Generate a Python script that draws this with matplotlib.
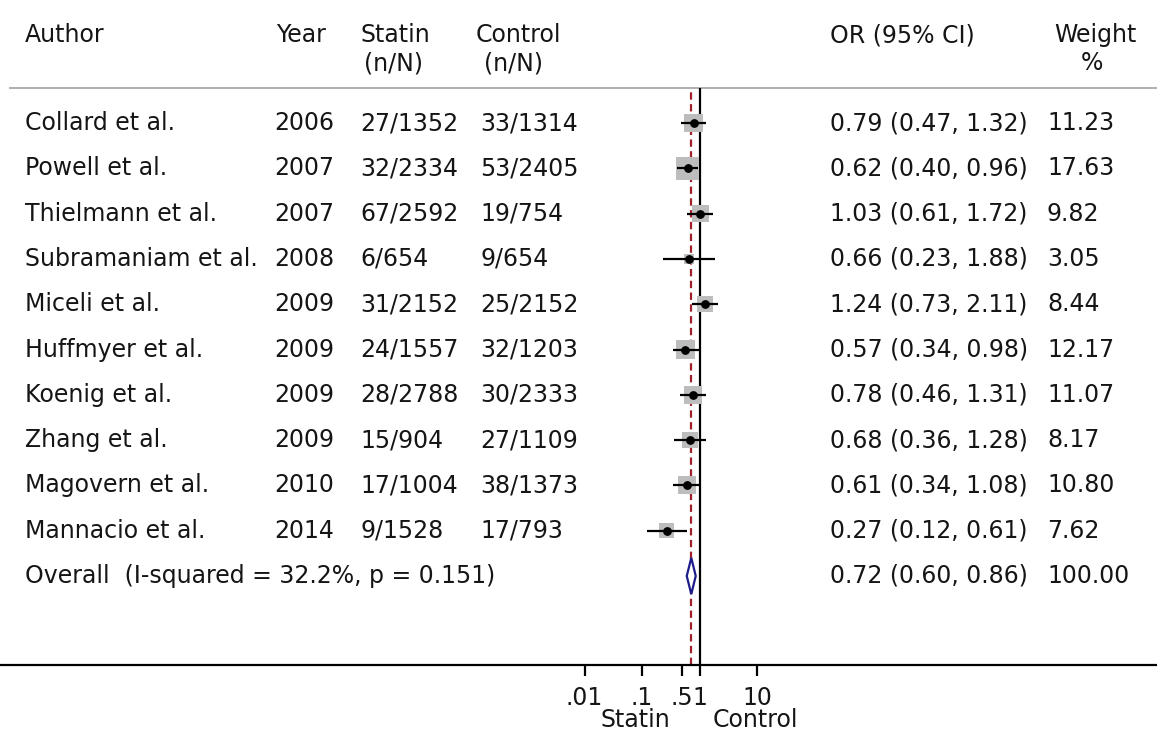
import numpy as np
import matplotlib
matplotlib.use('Agg')
import matplotlib.pyplot as plt
import matplotlib.transforms as mtrans

# study data
authors = ['Collard et al.', 'Powell et al.', 'Thielmann et al.', 'Subramaniam et al.',
           'Miceli et al.', 'Huffmyer et al.', 'Koenig et al.', 'Zhang et al.',
           'Magovern et al.', 'Mannacio et al.']
years = [2006, 2007, 2007, 2008, 2009, 2009, 2009, 2009, 2010, 2014]
statin = ['27/1352', '32/2334', '67/2592', '6/654', '31/2152', '24/1557',
          '28/2788', '15/904', '17/1004', '9/1528']
control = ['33/1314', '53/2405', '19/754', '9/654', '25/2152', '32/1203',
           '30/2333', '27/1109', '38/1373', '17/793']
or_est = [0.79, 0.62, 1.03, 0.66, 1.24, 0.57, 0.78, 0.68, 0.61, 0.27]
ci_lo = [0.47, 0.40, 0.61, 0.23, 0.73, 0.34, 0.46, 0.36, 0.34, 0.12]
ci_hi = [1.32, 0.96, 1.72, 1.88, 2.11, 0.98, 1.31, 1.28, 1.08, 0.61]
weights = [11.23, 17.63, 9.82, 3.05, 8.44, 12.17, 11.07, 8.17, 10.80, 7.62]

overall_label = 'Overall  (I-squared = 32.2%, p = 0.151)'
overall_or, overall_lo, overall_hi, overall_w = 0.72, 0.60, 0.86, 100.00

xticks = [0.01, 0.1, 0.5, 1, 10]
xticklabels = ['.01', '.1', '.5', '1', '10']

plt.rcParams['font.family'] = ['DejaVu Sans']
FS = 17
TXT = '#151515'

W, H = 1157, 731
fig = plt.figure(figsize=(W / 100, H / 100), dpi=100)
# axes spans the full width; top at the header rule, bottom at the x axis line
ax = fig.add_axes([0, (H - 665) / H, 1, (665 - 88) / H])

ax.set_xscale('log')
ax.set_xlim(10 ** (-699.5 / 57.5), 10 ** ((W - 699.5) / 57.5))
ax.set_ylim(11.965, -0.773)

for s in ['left', 'right', 'top']:
    ax.spines[s].set_visible(False)
ax.spines['bottom'].set_linewidth(1.6)
ax.set_yticks([])
ax.set_xticks(xticks)
ax.set_xticklabels(xticklabels)
ax.xaxis.set_minor_locator(matplotlib.ticker.NullLocator())
ax.tick_params(axis='x', direction='out', length=8, width=1.6, pad=7,
               labelsize=FS, labelcolor=TXT)

# header rule
ax.axhline(-0.773, xmin=10 / W, xmax=1, color='#a8a8a8', lw=1.3, clip_on=False)

# reference lines
ax.axvline(1, color='black', lw=1.6)
ax.axvline(overall_or, ymax=0.995, color='#a0202a', lw=1.6, dashes=(3.3, 2))

n = len(authors)
rows = np.arange(n)

# study boxes, CI lines and point estimates
ax.scatter(or_est, rows, marker='s', s=np.array(weights) * 15.5,
           color='#bdbdbd', edgecolors='none', zorder=2)
ax.hlines(rows, ci_lo, ci_hi, color='black', lw=1.6, zorder=3)
ax.scatter(or_est, rows, marker='o', s=28, color='black', zorder=4)

# overall diamond
yo = n
h = 0.4
ax.fill([overall_lo, overall_or, overall_hi, overall_or],
        [yo, yo - h, yo, yo + h], facecolor='white', edgecolor='#1c1c8a',
        lw=1.6, zorder=4)

# text columns: x in figure pixels, y in row units
tr = mtrans.blended_transform_factory(ax.transAxes, ax.transData)
def put(px, y, s, ha='left'):
    ax.text(px / W, y, s, transform=tr, ha=ha, va='center', fontsize=FS,
            color=TXT, clip_on=False)

for i in range(n):
    put(25, i, authors[i])
    put(274, i, str(years[i]))
    put(360, i, statin[i])
    put(480, i, control[i])
    put(830, i, '%.2f (%.2f, %.2f)' % (or_est[i], ci_lo[i], ci_hi[i]))
    put(1047, i, '%.2f' % weights[i])

put(25, yo, overall_label)
put(830, yo, '%.2f (%.2f, %.2f)' % (overall_or, overall_lo, overall_hi))
put(1047, yo, '%.2f' % overall_w)

# header
y1, y2 = (35 - 123) / 45.3, (63 - 123) / 45.3
put(25, y1, 'Author')
put(276, y1, 'Year')
put(360, y1, 'Statin')
put(364, y2, '(n/N)')
put(476, y1, 'Control')
put(484, y2, '(n/N)')
put(830, y1, 'OR (95% CI)')
put(1137, y1, 'Weight', ha='right')
put(1092, y2, '%', ha='center')

# favours labels under the axis
yl = (720 - 123) / 45.3
put(635, yl, 'Statin', ha='center')
put(755, yl, 'Control', ha='center')

fig.savefig('out.png', dpi=100)
